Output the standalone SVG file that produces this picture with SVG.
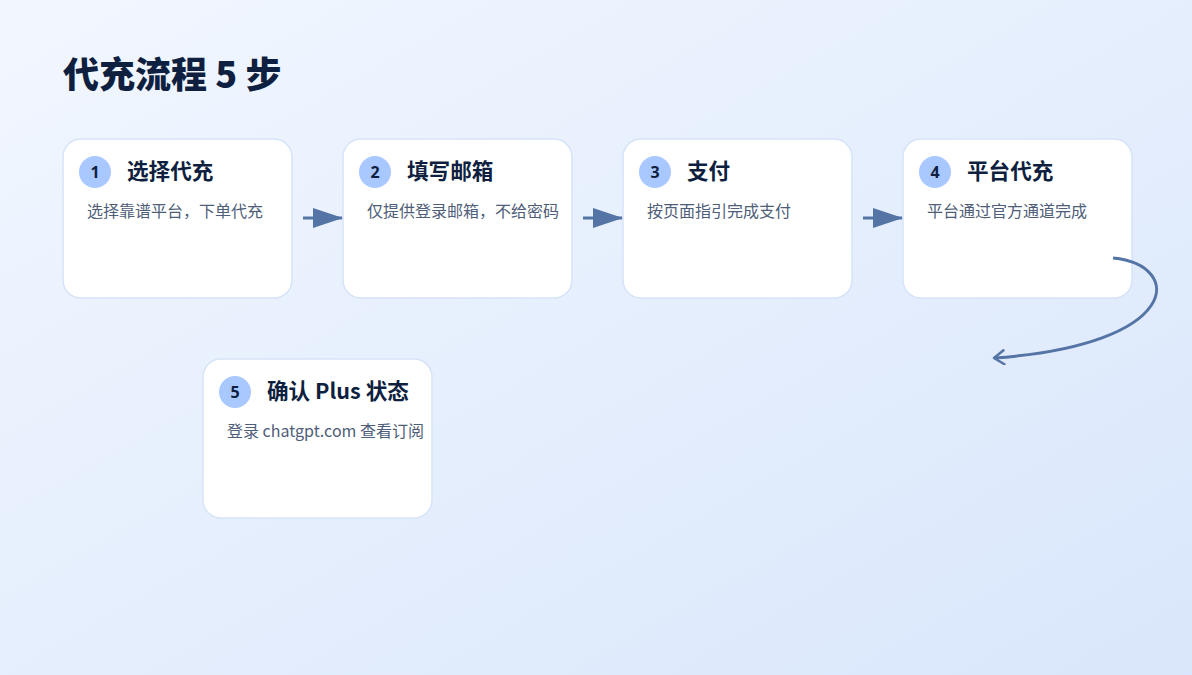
<svg xmlns="http://www.w3.org/2000/svg" width="1192" height="675" viewBox="0 0 1192 675">
<defs>
<linearGradient id="bg" x1="0" y1="0" x2="1" y2="1">
<stop offset="0" stop-color="#f2f7ff"/>
<stop offset="1" stop-color="#d9e6fb"/>
</linearGradient>
<marker id="tri" viewBox="0 0 30 20" refX="29" refY="10" markerWidth="30" markerHeight="20" markerUnits="userSpaceOnUse" orient="auto">
<path d="M0 0 L30 10 L0 20 Z" fill="#5474a6"/>
</marker>
<marker id="chev" viewBox="0 0 14 16" refX="12" refY="8" markerWidth="14" markerHeight="16" markerUnits="userSpaceOnUse" orient="auto">
<path d="M2 1 L12 8 L2 15" fill="none" stroke="#5474a6" stroke-width="2.5" stroke-linecap="round" stroke-linejoin="round"/>
</marker>
</defs>
<style>
.card{fill:#fff;stroke:#d6e3f8;stroke-width:1.5}
.badge{fill:#a8c8ff}
.num{font-family:"Noto Sans","Noto Sans CJK SC",sans-serif;font-size:16px;font-weight:700;fill:#0f1f40}
.ttl{font-family:"Noto Sans CJK SC","Noto Sans",sans-serif;font-size:21.6px;font-weight:700;fill:#0f1f40}
.dsc{font-family:"Noto Sans CJK SC","Noto Sans",sans-serif;font-size:16px;fill:#4e5d78}
.conn{fill:none;stroke:#5474a6;stroke-width:3}
</style>
<rect width="1192" height="675" fill="url(#bg)"/>
<text x="63" y="88" font-family="'Noto Sans CJK SC','Noto Sans',sans-serif" font-size="36" font-weight="900" fill="#0f1f40">代充流程 5 步</text>
<g id="step1">
<rect class="card" x="63" y="139" width="229" height="159" rx="18"/>
<circle class="badge" cx="95" cy="172" r="16"/>
<text class="num" x="95" y="178" text-anchor="middle">1</text>
<text class="ttl" x="127" y="179">选择代充</text>
<text class="dsc" x="87" y="217">选择靠谱平台，下单代充</text>
</g>
<g id="step2">
<rect class="card" x="343" y="139" width="229" height="159" rx="18"/>
<circle class="badge" cx="375" cy="172" r="16"/>
<text class="num" x="375" y="178" text-anchor="middle">2</text>
<text class="ttl" x="407" y="179">填写邮箱</text>
<text class="dsc" x="367" y="217">仅提供登录邮箱，不给密码</text>
</g>
<g id="step3">
<rect class="card" x="623" y="139" width="229" height="159" rx="18"/>
<circle class="badge" cx="655" cy="172" r="16"/>
<text class="num" x="655" y="178" text-anchor="middle">3</text>
<text class="ttl" x="687" y="179">支付</text>
<text class="dsc" x="647" y="217">按页面指引完成支付</text>
</g>
<g id="step4">
<rect class="card" x="903" y="139" width="229" height="159" rx="18"/>
<circle class="badge" cx="935" cy="172" r="16"/>
<text class="num" x="935" y="178" text-anchor="middle">4</text>
<text class="ttl" x="967" y="179">平台代充</text>
<text class="dsc" x="927" y="217">平台通过官方通道完成</text>
</g>
<g id="step5">
<rect class="card" x="203" y="359" width="229" height="159" rx="18"/>
<circle class="badge" cx="235" cy="392" r="16"/>
<text class="num" x="235" y="398" text-anchor="middle">5</text>
<text class="ttl" x="267" y="399">确认 Plus 状态</text>
<text class="dsc" x="227" y="437">登录 chatgpt.com 查看订阅</text>
</g>
<g id="connectors">
<path class="conn" d="M303 218 L342 218" marker-end="url(#tri)"/>
<path class="conn" d="M583 218 L622 218" marker-end="url(#tri)"/>
<path class="conn" d="M863 218 L902 218" marker-end="url(#tri)"/>
<path class="conn" d="M1113 258 C1185 265 1182 345 994 358" stroke-width="2.5" marker-end="url(#chev)"/>
</g>
</svg>
